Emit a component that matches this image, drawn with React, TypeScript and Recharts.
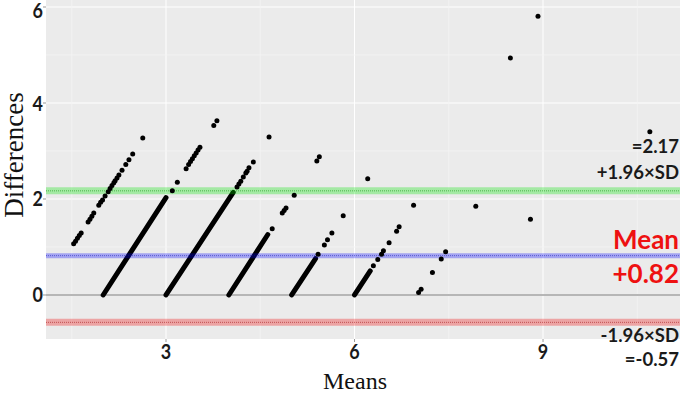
import React from "react";
import {
  ComposedChart, Scatter, XAxis, YAxis, CartesianGrid, ReferenceLine,
} from "recharts";

const W = 685;
const H = 406;

const X_DOMAIN = [1.09, 11.18];
const Y_DOMAIN = [-0.917, 6.146];
const X_TICKS = [3, 6, 9];
const Y_TICKS = [0, 2, 4, 6];
const X_MINOR = [1.5, 4.5, 7.5, 10.5];
const Y_MINOR = [1, 3, 5];

// Bland-Altman limits
const MEAN_DIFF = 0.82;
const UPPER_LOA = 2.17;
const LOWER_LOA = -0.57;

// dense runs of points, read as start/end (mean, difference)
const STREAKS = [
  [2.0, 0.0, 3.0, 2.03],
  [3.0, 0.0, 4.07, 2.14],
  [4.0, 0.0, 4.62, 1.26],
  [5.0, 0.0, 5.38, 0.76],
  [6.0, 0.0, 6.25, 0.5],
];

// isolated points [mean, difference]
const POINTS = [
  [1.53, 1.07], [1.56, 1.12], [1.59, 1.18], [1.62, 1.24], [1.65, 1.29],
  [1.76, 1.52], [1.79, 1.58], [1.82, 1.64], [1.85, 1.71],
  [1.93, 1.87], [1.96, 1.93], [1.99, 1.98], [2.03, 2.06],
  [2.08, 2.15], [2.11, 2.22], [2.14, 2.28], [2.17, 2.34], [2.19, 2.38],
  [2.22, 2.44], [2.25, 2.5], [2.3, 2.6], [2.36, 2.72], [2.41, 2.82],
  [2.47, 2.94], [2.63, 3.27],
  [3.1, 2.17], [3.18, 2.35], [3.32, 2.63], [3.36, 2.72], [3.39, 2.78],
  [3.42, 2.84], [3.45, 2.9], [3.48, 2.96], [3.51, 3.02], [3.54, 3.08],
  [3.76, 3.53], [3.81, 3.63],
  [4.13, 2.25], [4.16, 2.31], [4.19, 2.37], [4.23, 2.46], [4.27, 2.54],
  [4.29, 2.58], [4.32, 2.65], [4.39, 2.77], [4.64, 3.29],
  [4.69, 1.38], [4.85, 1.71], [4.88, 1.76], [4.91, 1.81], [5.04, 2.08],
  [5.4, 2.79], [5.44, 2.88],
  [5.42, 0.85], [5.52, 1.04], [5.57, 1.15], [5.64, 1.29], [5.82, 1.65],
  [6.21, 2.42],
  [6.3, 0.61], [6.37, 0.74], [6.43, 0.85], [6.46, 0.92], [6.55, 1.09],
  [6.67, 1.33], [6.71, 1.42], [6.94, 1.87],
  [7.02, 0.05], [7.06, 0.12], [7.24, 0.47], [7.38, 0.75], [7.45, 0.9],
  [7.93, 1.85],
  [8.48, 4.94], [8.8, 1.58], [8.92, 5.81], [10.7, 3.4],
];

const scatterData = POINTS.map(([m, d]) => ({ m, d }));

const tickText = { fontFamily: "Lato", fontWeight: 700, fontSize: 18, fill: "#1a1a1a" };

// tick digits in the reference are drawn a little taller than wide
const XTick = (p: any) => (
  <g transform={`translate(${p.x},${p.y + 14}) scale(1,1.2)`}>
    <text textAnchor="middle" {...tickText}>{p.payload.value}</text>
  </g>
);
const YTick = (p: any) => (
  // the top label sits against the panel edge, keep it inside the picture
  <g transform={`translate(${p.x + 1},${Math.max(p.y + 7.5, 17.5)}) scale(1,1.2)`}>
    <text textAnchor="end" {...tickText}>{p.payload.value}</text>
  </g>
);

const Dot = (p: any) => <circle cx={p.cx} cy={p.cy} r={2.5} fill="#000" />;

const note = (top: number, size: number, color: string, text: string) => (
  <div
    style={{
      position: "absolute", right: 6, top, transform: "translateY(-50%)",
      fontFamily: "Lato", fontWeight: 700, fontSize: size, lineHeight: 1,
      color, whiteSpace: "nowrap",
    }}
  >
    {text}
  </div>
);

export default function App() {
  return (
    <div style={{ position: "absolute", left: 0, top: 0, width: W, height: H, background: "#fff" }}>
      <ComposedChart width={W} height={H} margin={{ top: 0, right: 5, bottom: 0, left: 0 }}>
        <CartesianGrid
          fill="#ebebeb"
          stroke="#ffffff"
          strokeWidth={1}
          horizontalValues={Y_TICKS}
          verticalValues={X_TICKS}
        />
        {X_MINOR.map((v) => (
          <ReferenceLine key={"xm" + v} x={v} stroke="#f4f4f4" strokeWidth={0.8} />
        ))}
        {Y_MINOR.map((v) => (
          <ReferenceLine key={"ym" + v} y={v} stroke="#f4f4f4" strokeWidth={0.8} />
        ))}
        <XAxis
          type="number"
          dataKey="m"
          domain={X_DOMAIN}
          ticks={X_TICKS}
          allowDataOverflow
          height={67}
          axisLine={false}
          tickSize={3}
          tickLine={{ stroke: "#999" }}
          tickMargin={3}
          tick={<XTick />}
        />
        <YAxis
          type="number"
          dataKey="d"
          domain={Y_DOMAIN}
          ticks={Y_TICKS}
          allowDataOverflow
          width={46}
          axisLine={false}
          tickSize={3}
          tickLine={{ stroke: "#999" }}
          tickMargin={1}
          tick={<YTick />}
        />
        <ReferenceLine y={0} stroke="#a0a0a0" strokeWidth={1.5} />
        {STREAKS.map(([x1, y1, x2, y2], i) => (
          <ReferenceLine
            key={"s" + i}
            segment={[{ x: x1, y: y1 }, { x: x2, y: y2 }]}
            stroke="#000"
            strokeWidth={5}
            strokeLinecap="round"
          />
        ))}
        <Scatter data={scatterData} dataKey="d" shape={<Dot />} isAnimationActive={false} />
        <ReferenceLine y={UPPER_LOA} stroke="rgba(0,230,0,0.3)" strokeWidth={7} />
        <ReferenceLine y={UPPER_LOA} stroke="rgba(0,140,0,0.55)" strokeWidth={1} strokeDasharray="1 1" />
        <ReferenceLine y={MEAN_DIFF} stroke="rgba(0,0,255,0.3)" strokeWidth={5} />
        <ReferenceLine y={MEAN_DIFF} stroke="rgba(0,0,170,0.45)" strokeWidth={1} strokeDasharray="1 1" />
        <ReferenceLine y={LOWER_LOA} stroke="rgba(240,0,0,0.3)" strokeWidth={7} />
        <ReferenceLine y={LOWER_LOA} stroke="rgba(150,0,0,0.5)" strokeWidth={1} strokeDasharray="1 1" />
      </ComposedChart>

      <div
        style={{
          position: "absolute", left: 14, top: 155, transform: "translate(-50%,-50%) rotate(-90deg)",
          fontFamily: "Liberation Serif", fontSize: 27, lineHeight: 1, color: "#111", whiteSpace: "nowrap",
        }}
      >
        Differences
      </div>
      <div
        style={{
          position: "absolute", left: 355, top: 381, transform: "translate(-50%,-50%)",
          fontFamily: "Liberation Serif", fontSize: 24, lineHeight: 1, color: "#111", whiteSpace: "nowrap",
        }}
      >
        Means
      </div>

      {note(146, 18.5, "#1a1a1a", `=${UPPER_LOA.toFixed(2)}`)}
      {note(172, 18.5, "#1a1a1a", "+1.96×SD")}
      {note(239, 26, "#ee1111", "Mean")}
      {note(273, 26, "#ee1111", `+${MEAN_DIFF.toFixed(2)}`)}
      {note(335, 18.5, "#1a1a1a", "-1.96×SD")}
      {note(359, 18.5, "#1a1a1a", `=${LOWER_LOA.toFixed(2)}`)}
    </div>
  );
}
